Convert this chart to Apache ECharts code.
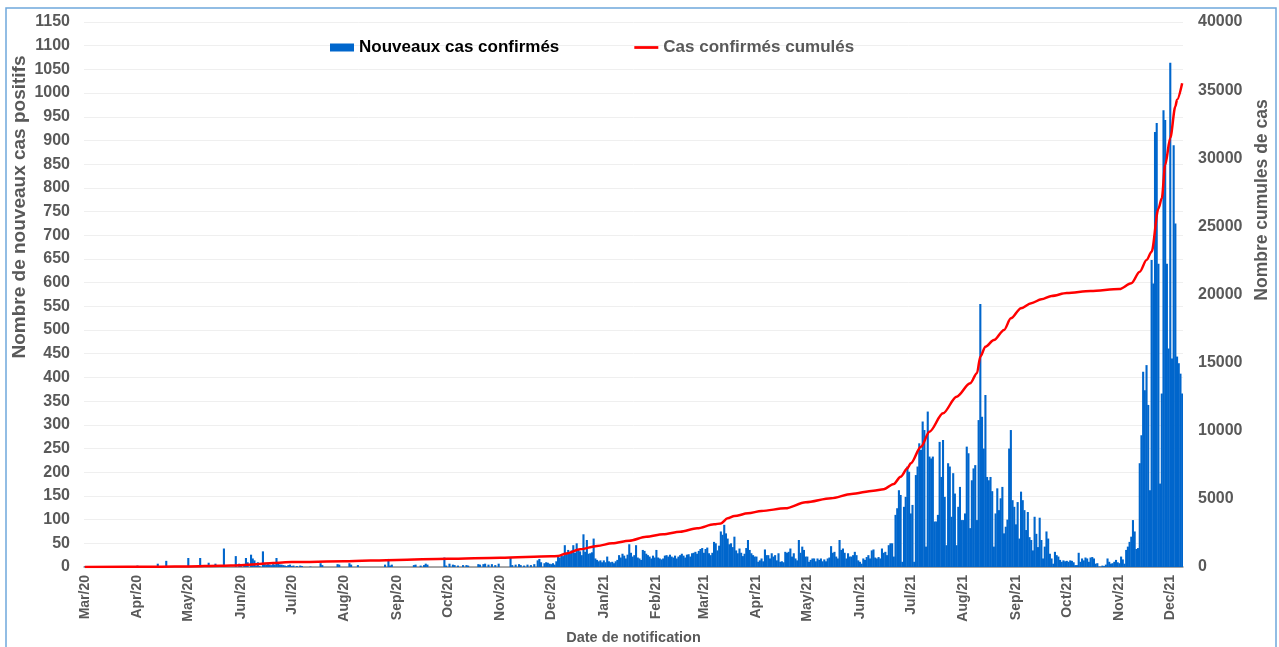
<!DOCTYPE html>
<html><head><meta charset="utf-8">
<script src="https://cdn.jsdelivr.net/npm/echarts@6/dist/echarts.min.js"></script>
<style>html,body{margin:0;padding:0;background:#fff}#c{width:1279px;height:647px}</style>
</head><body><div id="c"></div><script>
// Nouveaux cas confirmés, un chiffre par jour à partir du 1er mars 2020
const nouveauxCas = [
// mars 2020
1,0,0,0,0,0,0,0,0,0, 0,0,0,0,0,0,0,0,0,0, 0,2,0,0,0,0,0,0,0,0, 0,
// avril 2020
3,0,2,0,0,0,0,0,0,0, 0,0,7,0,0,0,0,13,0,0, 0,0,0,0,0,0,0,0,0,0,
// mai 2020
19,0,0,0,0,0,0,19,0,0, 0,0,9,0,0,0,7,0,0,0, 0,39,0,0,0,0,0,0,23,0, 7,
// juin 2020
3,0,4,19,10,0,26,18,14,3, 10,2,0,33,6,5,6,5,4,6, 5,19,8,5,5,4,3,2,4,5,
// juillet 2020
2,3,0,2,0,3,2,0,0,0, 0,1,0,0,0,0,0,8,4,0, 0,0,0,0,0,0,0,6,5,0, 0,
// août 2020
0,0,0,8,5,0,0,0,4,0, 0,0,0,0,0,0,0,0,0,0, 0,0,0,0,5,0,17,3,5,0, 0,
// septembre 2020
0,0,0,0,0,0,0,0,0,0, 4,5,0,0,3,0,4,7,5,0, 0,0,0,0,0,0,0,0,20,3,
// octobre 2020
0,7,0,5,4,0,3,0,0,4, 0,4,3,0,0,0,0,0,6,5, 0,6,7,0,5,0,6,0,4,0, 7,
// novembre 2020
0,0,0,0,0,0,20,4,0,5, 0,6,4,0,3,0,5,0,4,0, 6,0,14,17,10,0,8,10,9,7,
// décembre 2020
6,8,5,12,22,20,24,23,46,30, 36,29,35,46,30,50,36,33,25,69, 32,57,28,29,31,60,18,15,12,14, 10,
// janvier 2021
14,10,22,12,10,11,8,12,15,25, 20,28,24,18,26,48,30,22,25,46, 20,18,15,36,34,28,25,22,18,24, 20,
// février 2021
36,20,18,16,18,24,25,22,26,22, 20,24,18,22,25,28,24,20,26,27, 22,29,30,32,28,34,38,40,
// mars 2021
30,38,41,29,25,30,53,50,35,45, 75,68,89,71,60,48,50,42,64,35, 29,39,30,23,28,40,57,36,29,25, 22,
// avril 2021
22,11,14,18,12,37,25,25,18,29, 22,25,14,29,11,12,10,32,30,32, 39,22,29,18,14,57,30,43,36,22,
// mai 2021
22,11,15,18,18,12,18,15,18,12, 16,12,18,20,44,30,32,22,18,57, 36,39,30,18,29,22,22,25,32,25, 14,
// juin 2021
11,7,18,15,21,25,18,35,37,20, 18,21,18,39,30,32,25,46,50,50, 22,110,124,162,152,11,127,148,212,201,
// juillet 2021
113,131,11,194,212,261,247,307,289,43, 328,233,229,233,96,96,110,264,190,268, 148,46,219,212,106,198,155,46,127,169, 99,
// août 2021
99,113,254,240,82,183,208,215,99,310, 555,317,250,363,190,183,190,160,43,113, 166,120,145,169,71,85,100,250,289,141, 127,
// septembre 2021
90,137,60,159,141,120,78,116,63,57, 35,106,70,42,104,57,18,43,75,60, 28,18,7,32,25,22,15,11,14,12,
// octobre 2021
13,11,14,13,10,4,4,30,11,18, 14,20,18,11,20,21,18,7,8,1, 1,3,2,5,18,11,7,8,11,15, 10,
// novembre 2021
8,22,16,7,36,43,53,64,99,75, 38,40,219,278,412,373,426,342,162,648, 598,918,937,640,176,366,964,943,640,461,
// décembre 2021
1064,440,890,725,444,430,408,366
];

// Cas confirmés cumulés
const cumulDates = [
'2020-03-01','2020-04-15','2020-05-01','2020-05-20','2020-06-01','2020-06-10','2020-06-20','2020-07-01',
'2020-08-01','2020-09-01','2020-10-01','2020-11-01','2020-12-01','2020-12-05','2020-12-10','2020-12-18',
'2020-12-28','2021-01-06','2021-01-16','2021-01-26','2021-02-05','2021-02-15','2021-02-25','2021-03-07',
'2021-03-11','2021-03-15','2021-03-19','2021-03-27','2021-04-04','2021-04-18','2021-04-30','2021-05-15',
'2021-05-27','2021-06-09','2021-06-15','2021-06-21','2021-06-25','2021-06-29','2021-07-01','2021-07-07',
'2021-07-12','2021-07-20','2021-07-28','2021-08-05','2021-08-09','2021-08-11','2021-08-14','2021-08-19',
'2021-08-25','2021-08-29','2021-09-04','2021-09-10','2021-09-16','2021-09-22','2021-10-01','2021-10-15',
'2021-11-01','2021-11-08','2021-11-13','2021-11-17','2021-11-20','2021-11-24','2021-11-26','2021-11-28',
'2021-12-01','2021-12-04','2021-12-05','2021-12-08'];
const cumulValeurs = [
0,20,40,90,130,200,300,360,
420,520,600,680,780,810,1000,1300,
1540,1740,1930,2225,2400,2590,2840,3130,
3200,3570,3740,3940,4110,4310,4750,5040,
5360,5600,5700,6100,6630,7240,7610,8830,
9930,11280,12500,13480,14220,15440,16170,16660,
17400,18250,18990,19360,19650,19890,20110,20250,
20400,20820,21670,22530,23140,26300,27060,29500,
31500,33800,34300,35500];

const moisAbr = ['Jan','Feb','Mar','Apr','May','Jun','Jul','Aug','Sep','Oct','Nov','Dec'];
const dateDebut = Date.UTC(2020, 2, 1);

const categories = nouveauxCas.map((v, i) => new Date(dateDebut + i * 86400000).toISOString().slice(0, 10));
const debutMois = (idx, val) => val.slice(8) === '01';
const libelle = val => moisAbr[+val.slice(5, 7) - 1] + '/' + val.slice(2, 4);

const gris = '#595959';
const police = 'Liberation Sans, Arial, sans-serif';

const chart = echarts.init(document.getElementById('c'));
chart.setOption({
  animation: false,
  backgroundColor: '#ffffff',
  grid: { left: 84, right: 96, top: 22, bottom: 80, containLabel: false, outerBoundsMode: 'none' },
  legend: {
    left: 325, top: 34, itemGap: 75, itemWidth: 24, itemHeight: 8,
    textStyle: { fontSize: 17, fontWeight: 'bold', fontFamily: police },
    data: [
      { name: 'Nouveaux cas confirmés', icon: 'rect', textStyle: { color: '#000000' } },
      { name: 'Cas confirmés cumulés', icon: 'path://M0 0 H26 V3 H0 Z', textStyle: { color: gris } }
    ]
  },
  xAxis: {
    type: 'category', data: categories, boundaryGap: true,
    name: 'Date de notification', nameLocation: 'middle', nameGap: 63,
    nameTextStyle: { fontSize: 14.5, fontWeight: 'bold', color: gris, fontFamily: police },
    axisLine: { lineStyle: { color: '#8c8c8c', width: 1.5 } },
    axisTick: { interval: debutMois, length: 6, lineStyle: { color: '#8c8c8c', width: 1.5 } },
    axisLabel: { interval: debutMois, rotate: 90, formatter: libelle, margin: 8,
      fontSize: 14, fontWeight: 'bold', color: gris, fontFamily: police },
    splitLine: { show: false }
  },
  yAxis: [
    { type: 'value', min: 0, max: 1150, interval: 50,
      axisLine: { show: false }, axisTick: { show: false },
      axisLabel: { formatter: v => String(v), fontSize: 16, fontWeight: 'bold', color: gris, fontFamily: police, margin: 14 },
      splitLine: { lineStyle: { color: '#efefef', width: 1 } } },
    { type: 'value', min: 0, max: 40000, interval: 5000, position: 'right',
      axisLine: { show: false }, axisTick: { show: false },
      axisLabel: { formatter: v => String(v), fontSize: 16, fontWeight: 'bold', color: gris, fontFamily: police, margin: 15 },
      splitLine: { show: false } }
  ],
  series: [
    { name: 'Nouveaux cas confirmés', type: 'bar', data: nouveauxCas,
      barWidth: 2.1, itemStyle: { color: '#0066cc' }, yAxisIndex: 0 },
    { name: 'Cas confirmés cumulés', type: 'line', yAxisIndex: 1,
      data: cumulDates.map((d, i) => [d, cumulValeurs[i]]),
      smooth: 0.3, smoothMonotone: 'x', symbol: 'none', showSymbol: false,
      lineStyle: { color: '#ff0000', width: 2.5 }, itemStyle: { color: '#ff0000' }, z: 5 }
  ],
  graphic: [
    { type: 'rect', shape: { x: 6, y: 8, width: 1270, height: 645 },
      style: { fill: 'none', stroke: '#6fa8dc', lineWidth: 1.5 }, silent: true },
    { type: 'text', x: 20, y: 207, rotation: Math.PI / 2,
      style: { text: 'Nombre de nouveaux cas positifs', fill: gris, font: 'bold 19px ' + police,
        textAlign: 'center', textVerticalAlign: 'middle' } },
    { type: 'text', x: 1262, y: 200, rotation: Math.PI / 2,
      style: { text: 'Nombre cumules de cas', fill: gris, font: 'bold 17.5px ' + police,
        textAlign: 'center', textVerticalAlign: 'middle' } }
  ]
});
</script></body></html>
